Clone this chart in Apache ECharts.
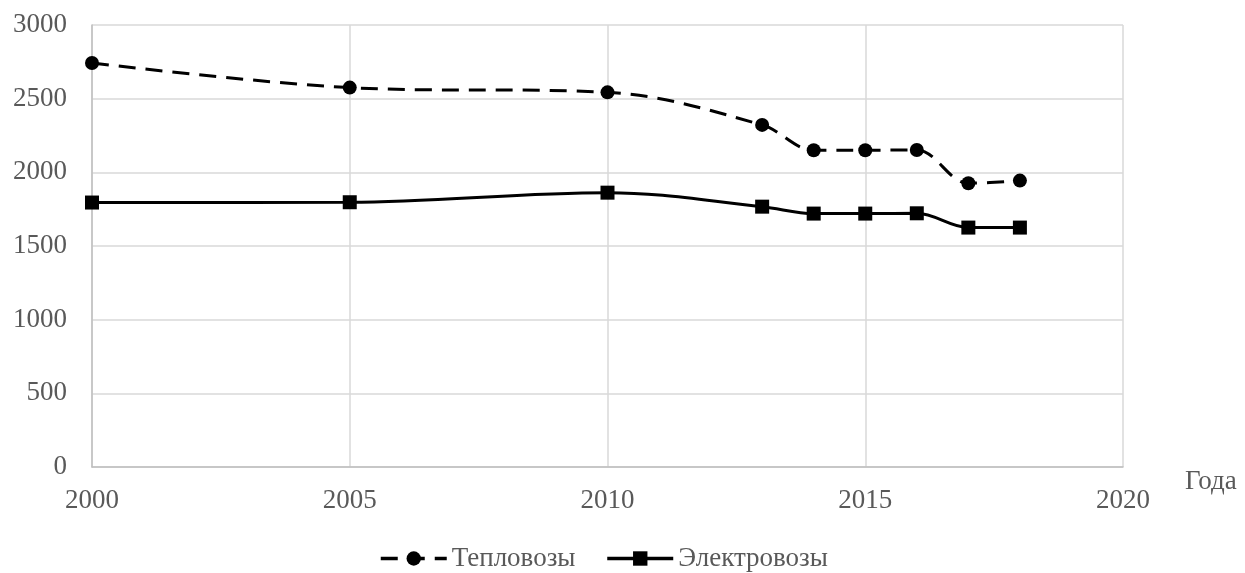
<!DOCTYPE html>
<html>
<head>
<meta charset="utf-8">
<script src="https://cdn.jsdelivr.net/npm/echarts@6/dist/echarts.min.js"></script>
<style>
  html, body { margin: 0; padding: 0; background: #fff; }
  #chart { width: 1245px; height: 573px; }
</style>
</head>
<body>
<div id="chart"></div>
<script>
// Years and fleet counts per locomotive type
const years = [2000, 2005, 2010, 2013, 2014, 2015, 2016, 2017, 2018];
const diesel = [2742, 2575, 2543, 2322, 2150, 2150, 2152, 1926, 1944];
const electric = [1795, 1797, 1862, 1767, 1720, 1720, 1722, 1625, 1625];
const seriesNames = ['Тепловозы', 'Электровозы'];
const xAxisName = 'Года';

const font = 'Liberation Serif, Times New Roman, serif';
const labelColor = '#595959';
const fontSize = 27;

const pairs = (ys) => years.map((x, i) => [x, ys[i]]);
const plain = (v) => String(v);

const chart = echarts.init(document.getElementById('chart'));
chart.setOption({
  animation: false,
  backgroundColor: '#ffffff',
  grid: { left: 92, right: 122, top: 25, bottom: 106 },
  legend: {
    left: 374,
    top: 540,
    itemWidth: 66,
    itemHeight: 18,
    itemGap: 30,
    lineStyle: { width: 3.5 },
    textStyle: { fontFamily: font, fontSize: fontSize, color: labelColor, padding: [0, 0, 0, 0] },
    data: seriesNames
  },
  xAxis: {
    type: 'value',
    min: 2000,
    max: 2020,
    interval: 5,
    name: xAxisName,
    nameLocation: 'end',
    nameGap: 62,
    nameTextStyle: { fontFamily: font, fontSize: fontSize, color: labelColor, verticalAlign: 'top', padding: [1, 0, 0, 0] },
    axisLine: { show: true, lineStyle: { color: '#bfbfbf', width: 1.5 } },
    axisTick: { show: false },
    axisLabel: { fontFamily: font, fontSize: fontSize, color: labelColor, margin: 20, formatter: plain },
    splitLine: { show: true, lineStyle: { color: '#d9d9d9', width: 1.5 } }
  },
  yAxis: {
    type: 'value',
    min: 0,
    max: 3000,
    interval: 500,
    axisLine: { show: true, lineStyle: { color: '#bfbfbf', width: 1.5 } },
    axisTick: { show: false },
    axisLabel: { fontFamily: font, fontSize: fontSize, color: labelColor, margin: 25, formatter: plain },
    splitLine: { show: true, lineStyle: { color: '#d9d9d9', width: 1.5 } }
  },
  series: [
    {
      name: seriesNames[0],
      type: 'line',
      data: pairs(diesel),
      smooth: 0.35,
      symbol: 'circle',
      symbolSize: 14,
      lineStyle: { color: '#000', width: 3, type: [17, 10] },
      itemStyle: { color: '#000' }
    },
    {
      name: seriesNames[1],
      type: 'line',
      data: pairs(electric),
      smooth: 0.35,
      symbol: 'rect',
      symbolSize: 14,
      lineStyle: { color: '#000', width: 3 },
      itemStyle: { color: '#000' }
    }
  ]
});
</script>
</body>
</html>
